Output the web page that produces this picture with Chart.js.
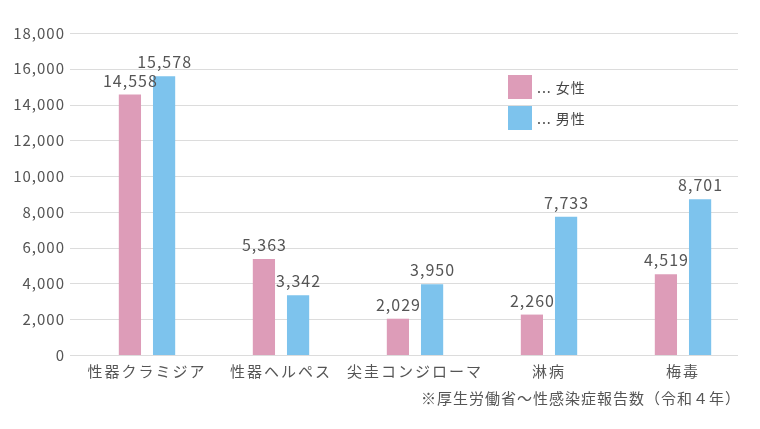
<!DOCTYPE html>
<html lang="ja">
<head>
<meta charset="utf-8">
<script src="https://cdn.jsdelivr.net/npm/chart.js@4"></script>
<style>
  html, body { margin: 0; padding: 0; background: #fff; }
  #wrap { position: relative; width: 760px; height: 429px; }
  #note {
    position: absolute; right: 19px; top: 387px;
    font: 15px "Noto Sans CJK JP", sans-serif; color: #555;
    letter-spacing: 1px;
  }
</style>
</head>
<body>
<div id="wrap">
  <canvas id="myChart" width="760" height="429"></canvas>
  <div id="note">※厚生労働省～性感染症報告数（令和４年）</div>
</div>
<script>
"use strict";

const categories = ['性器クラミジア', '性器ヘルペス', '尖圭コンジローマ', '淋病', '梅毒'];
const female = [14558, 5363, 2029, 2260, 4519];
const male = [15578, 3342, 3950, 7733, 8701];
const legendLabels = ['... 女性', '... 男性'];

const pink = '#dd9cb8';
const blue = '#7dc3ed';
const textColor = '#555';
const fontFamily = '"Noto Sans CJK JP", sans-serif';

// wider letter spacing for axis labels
const spacing = {
  id: 'spacing',
  beforeDraw(chart) {
    const sp = { x: '2px', y: '1px' };
    Object.keys(sp).forEach(id => {
      const scale = chart.scales[id];
      if (scale._spaced) return;
      const orig = scale.drawLabels;
      scale.drawLabels = function(area) {
        this.ctx.save();
        this.ctx.letterSpacing = sp[id];
        orig.call(this, area);
        this.ctx.restore();
      };
      scale._spaced = true;
    });
  }
};

// horizontal lines, a bit shorter on the right than the plot
const gridLines = {
  id: 'gridLines',
  beforeDatasetsDraw(chart) {
    const y = chart.scales.y;
    const ctx = chart.ctx;
    ctx.save();
    ctx.strokeStyle = '#dcdcdc';
    ctx.lineWidth = 1;
    y.ticks.forEach(t => {
      const py = Math.round(y.getPixelForValue(t.value)) + 0.5;
      ctx.beginPath();
      ctx.moveTo(70, py);
      ctx.lineTo(738, py);
      ctx.stroke();
    });
    ctx.restore();
  }
};

// numbers above each bar
const valueLabels = {
  id: 'valueLabels',
  afterDatasetsDraw(chart) {
    const ctx = chart.ctx;
    ctx.save();
    ctx.font = '16px ' + fontFamily;
    ctx.letterSpacing = '1px';
    ctx.fillStyle = textColor;
    ctx.textAlign = 'center';
    ctx.textBaseline = 'alphabetic';
    chart.data.datasets.forEach((ds, i) => {
      chart.getDatasetMeta(i).data.forEach((bar, j) => {
        ctx.fillText(ds.data[j].toLocaleString('en-US'), bar.x + 0.5, bar.y - 8);
      });
    });
    ctx.restore();
  }
};

// legend inside the plot
const boxLegend = {
  id: 'boxLegend',
  afterDraw(chart) {
    const ctx = chart.ctx;
    const x = 508, y0 = 75, step = 31, size = 24;
    ctx.save();
    ctx.font = '14px ' + fontFamily;
    ctx.letterSpacing = '1px';
    ctx.textBaseline = 'middle';
    ctx.textAlign = 'left';
    chart.data.datasets.forEach((ds, i) => {
      const y = y0 + i * step;
      ctx.fillStyle = ds.backgroundColor;
      ctx.fillRect(x, y, size, size);
      ctx.fillStyle = '#444';
      ctx.fillText(legendLabels[i], x + 29, y + size / 2 + 1);
    });
    ctx.restore();
  }
};

const ctx = document.querySelector('#myChart').getContext('2d');

const data = {
  labels: categories,
  datasets: [
    { data: female, backgroundColor: pink },
    { data: male, backgroundColor: blue },
  ]
};

const config = {
  type: 'bar',
  data: data,
  options: {
    responsive: false,
    animation: false,
    layout: { padding: { top: 33, right: 10, bottom: 44, left: 0 } },
    datasets: {
      bar: { categoryPercentage: 0.51, barPercentage: 0.65 }
    },
    plugins: {
      legend: { display: false },
      tooltip: { enabled: false }
    },
    scales: {
      x: {
        grid: { display: false, drawTicks: false },
        border: { display: false },
        ticks: {
          color: textColor,
          padding: 7,
          font: { family: fontFamily, size: 15 }
        },
        afterFit(scale) { scale.height = 30; }
      },
      y: {
        min: 0,
        max: 18000,
        grid: { display: false, drawTicks: false },
        border: { display: false },
        ticks: {
          stepSize: 2000,
          color: textColor,
          padding: 15,
          font: { family: fontFamily, size: 15 },
          callback: v => v.toLocaleString('en-US')
        },
        afterFit(scale) { scale.width = 80; }
      }
    }
  },
  plugins: [spacing, gridLines, valueLabels, boxLegend]
};

const myChart = new Chart(ctx, config);
</script>
</body>
</html>
